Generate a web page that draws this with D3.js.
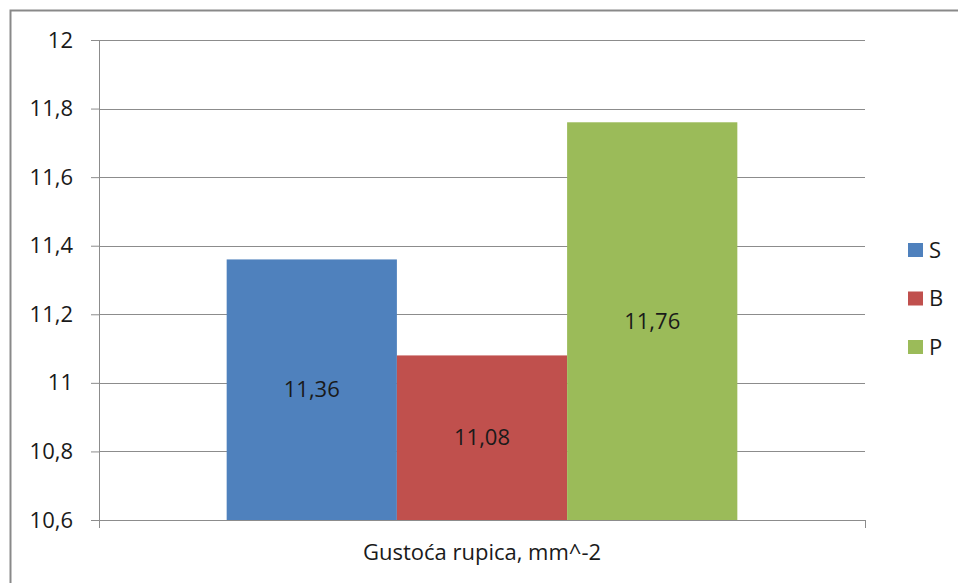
<!DOCTYPE html>
<html>
<head>
<meta charset="utf-8">
<script src="https://cdn.jsdelivr.net/npm/d3@7"></script>
<style>
    body { margin: 0; background: #fff; }
    svg text { font-family: "Open Sans", "Liberation Sans", sans-serif; fill: #1a1a1a; }
</style>
</head>
<body>
<svg id="chart" width="958" height="583"></svg>
<script>
// Chart data
const category = "Gustoća rupica, mm^-2";
const seriesNames = ["S", "B", "P"];
const seriesValues = [11.36, 11.08, 11.76];
const seriesColours = ["#4F81BD", "#C0504D", "#9BBB59"];
const yTicks = [10.6, 10.8, 11, 11.2, 11.4, 11.6, 11.8, 12];

const margin = { top: 40, right: 93, bottom: 63, left: 99 };
const width = 958 - margin.left - margin.right;
const height = 583 - margin.top - margin.bottom;
const fontSize = "22px";
const fmt = v => d3.format("")(+v.toFixed(2)).replace(".", ",");

const svg = d3.select("#chart");

// Outer chart border (cut off on the right and bottom like the original)
svg.append("rect")
    .attr("x", 10.5).attr("y", 10.5)
    .attr("width", 1000).attr("height", 1000)
    .attr("fill", "none")
    .attr("stroke", "#898989")
    .attr("stroke-width", 2);

const g = svg.append("g").attr("transform", `translate(${margin.left}, ${margin.top})`);

// Scales
const x0 = d3.scaleBand().domain([category]).range([0, width]).paddingInner(0).paddingOuter(0);
const groupWidth = x0.bandwidth();
const barWidth = groupWidth / (seriesNames.length + 1.5);
const x1 = d3.scaleBand()
    .domain(seriesNames)
    .range([(groupWidth - barWidth * seriesNames.length) / 2, (groupWidth + barWidth * seriesNames.length) / 2]);

const y = d3.scaleLinear().domain([10.6, 12]).range([height, 0]);

// Gridlines
g.append("g")
    .selectAll("line")
    .data(yTicks)
    .join("line")
    .attr("x1", 0).attr("x2", width)
    .attr("y1", d => Math.round(y(d)) + 0.5).attr("y2", d => Math.round(y(d)) + 0.5)
    .attr("stroke", "#8c8c8c")
    .attr("stroke-width", 1);

// Bars
g.selectAll(".bar")
    .data(seriesNames)
    .join("rect")
    .attr("class", "bar")
    .attr("x", (d, i) => x0(category) + x1(d))
    .attr("width", x1.bandwidth())
    .attr("y", (d, i) => y(seriesValues[i]))
    .attr("height", (d, i) => y(10.6) - y(seriesValues[i]))
    .attr("fill", (d, i) => seriesColours[i]);

// Data labels in the middle of the bars
g.selectAll(".bar-label")
    .data(seriesNames)
    .join("text")
    .attr("class", "bar-label")
    .attr("x", d => x0(category) + x1(d) + x1.bandwidth() / 2)
    .attr("y", (d, i) => (y(seriesValues[i]) + y(10.6)) / 2)
    .attr("dy", "0.35em")
    .attr("text-anchor", "middle")
    .style("font-size", fontSize)
    .text((d, i) => fmt(seriesValues[i]));

// Y axis
const yAxis = d3.axisLeft(y).tickValues(yTicks).tickSize(8).tickPadding(18).tickFormat(fmt);
const yG = g.append("g").call(yAxis);
yG.select(".domain").attr("stroke", "#8c8c8c").attr("d", `M0.5,0V${height}`);
yG.selectAll(".tick line").attr("stroke", "#8c8c8c");
yG.selectAll("text").style("font-size", fontSize).style("fill", "#1a1a1a");

// X axis
const xG = g.append("g").attr("transform", `translate(0, ${height})`);
xG.append("line")
    .attr("x1", 0).attr("x2", width)
    .attr("y1", 0.5).attr("y2", 0.5)
    .attr("stroke", "#8c8c8c");
xG.selectAll(".xtick")
    .data([0, width])
    .join("line")
    .attr("class", "xtick")
    .attr("x1", d => d + 0.5).attr("x2", d => d + 0.5)
    .attr("y1", 0).attr("y2", 8)
    .attr("stroke", "#8c8c8c");
xG.append("text")
    .attr("x", x0(category) + groupWidth / 2)
    .attr("y", 40)
    .attr("text-anchor", "middle")
    .style("font-size", fontSize)
    .text(category);

// Legend
const legend = svg.append("g").attr("transform", "translate(908, 250)");
const item = legend.selectAll("g")
    .data(seriesNames)
    .join("g")
    .attr("transform", (d, i) => `translate(0, ${i * 48.5})`);
item.append("rect")
    .attr("x", 0).attr("y", -7)
    .attr("width", 15).attr("height", 14)
    .attr("fill", (d, i) => seriesColours[i]);
item.append("text")
    .attr("x", 21)
    .attr("dy", "0.35em")
    .style("font-size", fontSize)
    .text(d => d);
</script>
</body>
</html>
